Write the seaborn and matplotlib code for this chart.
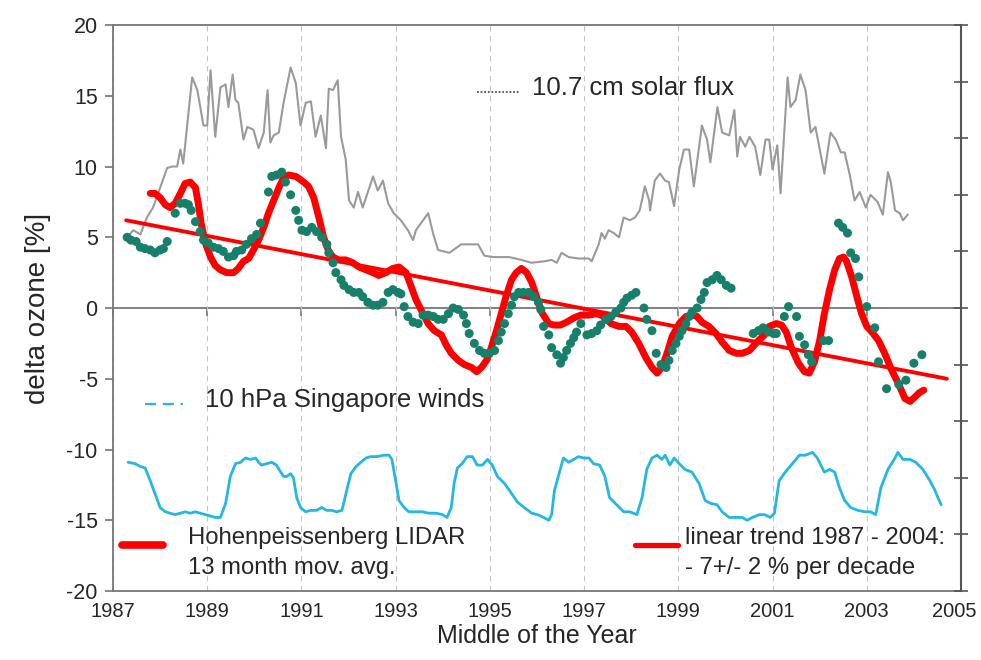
import matplotlib
matplotlib.use("Agg")
import matplotlib.pyplot as plt
import matplotlib.transforms as mtransforms
import seaborn as sns

# 10.7 cm solar flux, scaled onto the ozone axis
solar_year = [1987.30, 1987.43, 1987.58, 1987.72, 1987.85,
              1988.15, 1988.26, 1988.36, 1988.43, 1988.49, 1988.68, 1988.79, 1988.92,
              1989.00, 1989.07, 1989.17, 1989.28, 1989.39, 1989.45, 1989.54, 1989.60, 1989.66, 1989.77, 1989.85, 1989.98,
              1990.09, 1990.20, 1990.28, 1990.34, 1990.41, 1990.52, 1990.62, 1990.77, 1990.88, 1990.98,
              1991.09, 1991.20, 1991.30, 1991.41, 1991.52, 1991.58, 1991.67, 1991.77, 1991.84, 1991.94,
              1992.01, 1992.11, 1992.20, 1992.30, 1992.52, 1992.62, 1992.73, 1992.84, 1992.96,
              1993.11, 1993.26, 1993.37, 1993.43, 1993.69, 1993.80, 1993.90,
              1994.14, 1994.39, 1994.75, 1994.88,
              1995.07, 1995.41, 1995.67, 1995.88,
              1996.16, 1996.31, 1996.42, 1996.52, 1996.67, 1996.88,
              1997.10, 1997.16, 1997.31, 1997.37, 1997.44, 1997.52, 1997.63, 1997.74, 1997.84, 1997.97,
              1998.08, 1998.18, 1998.29, 1998.38, 1998.40, 1998.50, 1998.61, 1998.72, 1998.80, 1998.91,
              1999.02, 1999.12, 1999.23, 1999.33, 1999.50, 1999.61, 1999.68, 1999.83, 1999.93,
              2000.08, 2000.19, 2000.25, 2000.31, 2000.42, 2000.51, 2000.63, 2000.74, 2000.85, 2000.93,
              2001.00, 2001.10, 2001.17, 2001.32, 2001.38, 2001.49, 2001.59, 2001.70, 2001.81, 2001.91,
              2002.10, 2002.23, 2002.34, 2002.45, 2002.53, 2002.64, 2002.74, 2002.85, 2002.98,
              2003.08, 2003.23, 2003.34, 2003.45, 2003.51, 2003.60, 2003.70, 2003.77, 2003.87]
solar_value = [5.0, 5.5, 5.2, 6.4, 7.1,
               9.9, 10.0, 10.0, 11.2, 10.2, 16.3, 15.4, 12.9,
               12.9, 16.8, 12.1, 15.6, 15.8, 14.2, 16.5, 14.7, 14.5, 11.9, 12.8, 12.6,
               11.3, 12.4, 15.4, 11.7, 12.2, 12.4, 14.5, 17.0, 15.9, 12.9,
               14.5, 14.6, 12.1, 13.6, 11.3, 15.5, 15.4, 16.1, 12.1, 10.5,
               7.6, 7.1, 8.2, 7.1, 9.3, 8.3, 9.0, 7.4, 6.7,
               6.2, 5.5, 4.8, 5.5, 6.7, 5.2, 4.1,
               3.9, 4.5, 4.5, 3.7,
               3.6, 3.6, 3.4, 3.2,
               3.3, 3.4, 3.2, 3.9, 3.6, 3.5,
               3.5, 3.3, 4.5, 5.3, 4.9, 5.5, 5.3, 5.0, 6.4, 6.2,
               6.4, 6.9, 8.6, 7.6, 6.9, 9.0, 9.5, 9.0, 8.9, 7.2,
               9.8, 11.2, 11.2, 8.6, 12.9, 11.9, 10.3, 14.2, 12.4,
               12.2, 14.0, 10.7, 12.1, 11.4, 12.1, 11.4, 9.4, 11.9, 11.9,
               9.8, 11.5, 8.1, 16.3, 14.2, 14.7, 16.5, 15.4, 12.4, 12.8,
               9.5, 12.4, 11.9, 11.0, 11.0, 9.4, 7.6, 8.2, 7.1,
               8.0, 7.5, 6.6, 9.6, 8.9, 6.9, 6.7, 6.2, 6.6]

# monthly LIDAR ozone deviations (green dots)
lidar_year = [1987.30, 1987.38, 1987.49, 1987.58, 1987.68, 1987.79, 1987.89,
              1988.00, 1988.07, 1988.15, 1988.32, 1988.43, 1988.53, 1988.60, 1988.66, 1988.75, 1988.85, 1988.92,
              1989.02, 1989.13, 1989.24, 1989.34, 1989.45, 1989.56, 1989.62, 1989.73, 1989.83, 1989.94,
              1990.05, 1990.13, 1990.30, 1990.37, 1990.47, 1990.58, 1990.66, 1990.77, 1990.88, 1990.94,
              1991.01, 1991.11, 1991.22, 1991.32, 1991.43, 1991.54, 1991.58, 1991.67, 1991.73, 1991.84, 1991.90,
              1992.01, 1992.11, 1992.22, 1992.30, 1992.41, 1992.52, 1992.62, 1992.73, 1992.84, 1992.94,
              1993.05, 1993.11, 1993.18, 1993.26, 1993.37, 1993.48, 1993.58, 1993.69, 1993.80, 1993.90,
              1994.01, 1994.12, 1994.22, 1994.33, 1994.44, 1994.50, 1994.56, 1994.67, 1994.78, 1994.88, 1994.99,
              1995.10, 1995.18, 1995.24, 1995.31, 1995.39, 1995.46, 1995.52, 1995.61, 1995.71, 1995.82, 1995.93,
              1996.03, 1996.08, 1996.14, 1996.25, 1996.31, 1996.42, 1996.50, 1996.56, 1996.63, 1996.71, 1996.78, 1996.84, 1996.93,
              1997.06, 1997.16, 1997.27, 1997.35, 1997.46, 1997.57, 1997.67, 1997.78, 1997.84, 1997.91,
              1998.01, 1998.10, 1998.27, 1998.33, 1998.44, 1998.53, 1998.63, 1998.74, 1998.80, 1998.87, 1998.95,
              1999.02, 1999.08, 1999.16, 1999.23, 1999.29, 1999.40, 1999.48, 1999.55, 1999.61, 1999.72, 1999.82, 1999.91,
              2000.02, 2000.12, 2000.59, 2000.70, 2000.80, 2000.91,
              2001.02, 2001.08, 2001.25, 2001.34, 2001.51, 2001.57, 2001.68, 2001.76, 2001.83,
              2002.08, 2002.19, 2002.40, 2002.49, 2002.59, 2002.66, 2002.76, 2002.83,
              2003.00, 2003.17, 2003.25, 2003.42, 2003.68, 2003.83,
              2004.00, 2004.17]
lidar_value = [5.0, 4.8, 4.7, 4.3, 4.2, 4.1, 3.9,
               4.1, 4.2, 4.7, 6.7, 7.4, 7.4, 7.3, 6.9, 6.1, 5.4, 4.8,
               4.6, 4.3, 4.2, 4.0, 3.6, 3.7, 4.0, 4.1, 4.5, 4.9,
               5.2, 6.0, 8.2, 9.3, 9.4, 9.6, 8.9, 8.0, 6.9, 6.2,
               5.5, 5.4, 5.7, 5.4, 5.0, 4.5, 3.9, 3.2, 2.5, 2.0, 1.6,
               1.3, 1.1, 1.1, 0.8, 0.4, 0.2, 0.2, 0.4, 1.1, 1.3,
               1.1, 1.0, 0.1, -0.6, -1.0, -1.1, -0.5, -0.5, -0.6, -0.8,
               -0.8, -0.4, 0.0, -0.1, -0.5, -1.1, -1.8, -2.5, -3.0, -3.2, -3.2,
               -3.0, -2.3, -1.7, -1.1, -0.4, 0.2, 0.8, 1.1, 1.1, 1.1, 0.8,
               0.4, -0.1, -1.3, -1.9, -2.8, -3.3, -3.9, -3.5, -3.0, -2.5, -2.1, -1.7, -1.1,
               -1.9, -1.8, -1.6, -1.2, -0.8, -0.6, -0.3, 0.0, 0.4, 0.7,
               0.9, 1.1, 0.0, -0.8, -1.6, -3.2, -4.0, -4.2, -3.7, -3.0, -2.5,
               -2.0, -1.6, -1.1, -0.6, -0.3, 0.0, 0.6, 1.1, 1.8, 2.0, 2.3, 2.0,
               1.6, 1.4, -1.8, -1.6, -1.4, -1.7,
               -1.8, -1.8, -0.6, 0.1, -0.6, -2.0, -2.6, -3.3, -3.8,
               -2.3, -2.3, 6.0, 5.7, 5.3, 3.9, 3.5, 2.2,
               0.1, -1.4, -3.8, -5.7, -5.4, -5.1,
               -3.9, -3.3]

# 13 month moving average (thick red line)
avg_year = [1987.79, 1987.89, 1988.00, 1988.11, 1988.21, 1988.32, 1988.43, 1988.53, 1988.64, 1988.75,
            1988.81, 1988.87, 1988.96, 1989.07, 1989.17, 1989.28, 1989.41, 1989.56, 1989.66, 1989.77,
            1989.88, 1989.98, 1990.09, 1990.20, 1990.30, 1990.41, 1990.52, 1990.62, 1990.73, 1990.88,
            1991.01, 1991.15, 1991.26, 1991.37, 1991.47, 1991.58, 1991.67, 1991.79, 1991.94, 1992.09,
            1992.22, 1992.37, 1992.52, 1992.64, 1992.79, 1992.94, 1993.07, 1993.22, 1993.33, 1993.43,
            1993.58, 1993.69, 1993.82, 1993.97, 1994.07, 1994.18, 1994.33, 1994.46, 1994.61, 1994.72,
            1994.82, 1994.93, 1995.03, 1995.14, 1995.24, 1995.35, 1995.46, 1995.56, 1995.67, 1995.78,
            1995.89, 1995.99, 1996.10, 1996.25, 1996.35, 1996.50, 1996.63, 1996.78, 1996.93, 1997.10,
            1997.27, 1997.42, 1997.57, 1997.74, 1997.89, 1998.01, 1998.16, 1998.31, 1998.44, 1998.55,
            1998.65, 1998.76, 1998.87, 1999.02, 1999.16, 1999.29, 1999.40, 1999.50, 1999.65, 1999.80,
            1999.93, 2000.08, 2000.23, 2000.36, 2000.51, 2000.70, 2000.83, 2000.93, 2001.08, 2001.19,
            2001.29, 2001.40, 2001.55, 2001.68, 2001.78, 2001.89, 2002.00, 2002.10, 2002.21, 2002.32,
            2002.42, 2002.51, 2002.57, 2002.68, 2002.79, 2002.89, 2003.00, 2003.11, 2003.25, 2003.38,
            2003.53, 2003.68, 2003.81, 2003.92, 2004.02, 2004.11, 2004.21]
avg_value = [8.1, 8.1, 7.8, 7.3, 7.1, 7.4, 8.1, 8.8, 8.9, 8.5,
             7.4, 6.0, 4.6, 3.6, 3.0, 2.7, 2.5, 2.5, 2.8, 3.3,
             3.5, 4.1, 4.8, 5.7, 6.7, 7.6, 8.5, 9.2, 9.4, 9.3,
             9.0, 8.6, 7.8, 6.4, 5.0, 4.0, 3.6, 3.4, 3.4, 3.2,
             2.9, 2.7, 2.5, 2.3, 2.5, 2.8, 2.9, 2.5, 1.5, 0.6,
             -0.4, -1.1, -1.6, -1.9, -2.6, -3.2, -3.7, -4.0, -4.2, -4.5,
             -4.2, -3.7, -2.8, -1.6, -0.4, 0.9, 2.0, 2.5, 2.8, 2.5,
             1.8, 0.8, -0.3, -1.1, -1.2, -1.2, -1.0, -0.7, -0.5, -0.5,
             -0.4, -0.6, -1.1, -1.3, -1.3, -1.7, -2.5, -3.5, -4.2, -4.6,
             -4.2, -3.2, -2.0, -1.1, -0.6, -0.5, -0.6, -1.0, -1.3, -1.8,
             -2.4, -3.0, -3.2, -3.2, -3.0, -2.3, -1.9, -1.3, -1.1, -1.2,
             -1.7, -2.8, -3.9, -4.5, -4.6, -3.8, -2.3, -0.4, 1.3, 2.7,
             3.5, 3.6, 3.3, 2.2, 0.8, -0.4, -1.3, -1.7, -2.3, -3.2,
             -4.4, -5.4, -6.4, -6.6, -6.3, -6.0, -5.8]

# linear trend 1987 - 2004
trend_year = [1987.28, 2004.70]
trend_value = [6.2, -5.0]

# 10 hPa Singapore winds, scaled onto the ozone axis
wind_year = [1987.32, 1987.47, 1987.58, 1987.68, 1987.79, 1987.89, 1988.00, 1988.11, 1988.21, 1988.32,
             1988.43, 1988.53, 1988.64, 1988.75, 1988.85, 1988.96, 1989.07, 1989.17, 1989.28, 1989.39,
             1989.49, 1989.60, 1989.71, 1989.81, 1989.92, 1990.03, 1990.09, 1990.15, 1990.26, 1990.37,
             1990.47, 1990.56, 1990.62, 1990.69, 1990.77, 1990.83, 1990.90, 1990.98, 1991.09, 1991.20,
             1991.32, 1991.43, 1991.54, 1991.64, 1991.75, 1991.86, 1991.96, 1992.05, 1992.16, 1992.26,
             1992.37, 1992.47, 1992.60, 1992.75, 1992.86, 1992.92, 1993.01, 1993.07, 1993.18, 1993.28,
             1993.43, 1993.56, 1993.71, 1993.86, 1993.99, 1994.09, 1994.18, 1994.24, 1994.31, 1994.41,
             1994.52, 1994.63, 1994.73, 1994.84, 1994.95, 1995.05, 1995.16, 1995.31, 1995.46, 1995.58,
             1995.73, 1995.89, 1996.01, 1996.14, 1996.25, 1996.31, 1996.37, 1996.46, 1996.56, 1996.67,
             1996.78, 1996.88, 1996.99, 1997.10, 1997.20, 1997.33, 1997.44, 1997.54, 1997.69, 1997.84,
             1997.97, 1998.12, 1998.23, 1998.33, 1998.44, 1998.55, 1998.65, 1998.72, 1998.82, 1998.91,
             1999.02, 1999.14, 1999.29, 1999.44, 1999.57, 1999.68, 1999.82, 1999.93, 2000.08, 2000.21,
             2000.36, 2000.46, 2000.57, 2000.72, 2000.83, 2000.95, 2001.04, 2001.14, 2001.27, 2001.42,
             2001.57, 2001.70, 2001.85, 2001.95, 2002.10, 2002.21, 2002.32, 2002.42, 2002.53, 2002.66,
             2002.81, 2002.96, 2003.08, 2003.19, 2003.30, 2003.45, 2003.60, 2003.66, 2003.77, 2003.92,
             2004.04, 2004.19, 2004.34, 2004.45, 2004.51, 2004.58]
wind_value = [-10.9, -11.0, -11.2, -11.3, -12.2, -13.1, -14.1, -14.4, -14.5, -14.6,
              -14.5, -14.4, -14.5, -14.4, -14.5, -14.6, -14.7, -14.8, -14.8, -13.8,
              -11.9, -11.0, -10.9, -10.6, -10.7, -10.6, -10.9, -11.1, -11.0, -10.9,
              -11.1, -11.6, -11.9, -11.9, -11.7, -12.0, -13.4, -14.1, -14.4, -14.3,
              -14.3, -14.1, -14.3, -14.3, -14.4, -14.3, -12.9, -11.7, -11.2, -10.9,
              -10.6, -10.5, -10.5, -10.4, -10.4, -10.7, -12.4, -13.6, -14.1, -14.4,
              -14.4, -14.4, -14.5, -14.5, -14.6, -14.8, -14.1, -12.4, -11.3, -11.0,
              -10.5, -10.5, -11.1, -11.1, -10.7, -11.1, -11.9, -12.4, -13.1, -13.7,
              -14.1, -14.5, -14.6, -14.8, -15.0, -14.6, -12.9, -11.8, -10.6, -10.9,
              -10.7, -10.5, -10.6, -10.6, -11.0, -11.1, -11.9, -13.4, -13.9, -14.4,
              -14.4, -14.6, -13.4, -11.4, -10.6, -10.4, -10.7, -10.4, -11.1, -10.6,
              -11.0, -11.4, -11.6, -12.4, -13.6, -13.8, -13.9, -14.4, -14.8, -14.8,
              -14.8, -15.0, -14.8, -14.6, -14.6, -14.8, -14.5, -12.2, -11.6, -11.0,
              -10.4, -10.4, -10.2, -10.6, -11.6, -11.4, -11.6, -12.7, -13.6, -14.1,
              -14.3, -14.4, -14.4, -14.6, -12.7, -11.4, -10.6, -10.2, -10.7, -10.7,
              -10.9, -11.4, -12.2, -12.9, -13.4, -13.9]

year_ticks = list(range(1987, 2006, 2))
ozone_ticks = list(range(-20, 21, 5))

sns.set_style("white")
plt.rcParams['font.family'] = ['Liberation Sans', 'DejaVu Sans']
plt.rcParams['axes.unicode_minus'] = False

red = '#ff0000'
green = '#17806b'
cyan = '#22b8e6'
edge = '#767676'

fig = plt.figure(figsize=(9.81, 6.6), dpi=100)
ax = fig.add_axes([0.1152, 0.1045, 0.8644, 0.8576])

sns.lineplot(x=solar_year, y=solar_value, ax=ax, color='#9a9a9a', lw=1.5,
             estimator=None, sort=False, zorder=2)
sns.lineplot(x=wind_year, y=wind_value, ax=ax, color=cyan, lw=2.0,
             estimator=None, sort=False, zorder=2)
sns.lineplot(x=avg_year, y=avg_value, ax=ax, color=red, lw=5.0,
             estimator=None, sort=False, zorder=3)
sns.lineplot(x=trend_year, y=trend_value, ax=ax, color=red, lw=2.8,
             estimator=None, sort=False, zorder=4)
sns.scatterplot(x=lidar_year, y=lidar_value, ax=ax, color=green, s=42,
                edgecolor='none', zorder=5)

ax.set_xlim(1987, 2005)
ax.set_ylim(-20, 20)
ax.set_xticks(year_ticks)
ax.set_yticks(ozone_ticks)
ax.set_axisbelow(True)
ax.grid(axis='x', ls=(0, (5, 4)), color='#c4c4c4', lw=0.8)
ax.grid(axis='y', visible=False)
for sp in ax.spines.values():
    sp.set_color(edge)
    sp.set_linewidth(1.3)
ax.tick_params(axis='y', direction='out', length=6, width=1.2, color=edge,
               labelsize=15.5, pad=5, left=True)
ax.tick_params(axis='x', length=0, labelsize=14.5, pad=8)
ax.set_xlabel("Middle of the Year", fontsize=18, labelpad=2)
ax.set_ylabel("delta ozone [%]", fontsize=20, labelpad=11)

# keep the last year label inside the picture
last = ax.get_xticklabels()[-1]
last.set_transform(last.get_transform() +
                   mtransforms.ScaledTranslation(-5 / 72, 0, fig.dpi_scale_trans))

# zero line with the year ticks, Excel style
zero = ax.secondary_xaxis(0.5)
zero.set_xticks(year_ticks)
zero.tick_params(axis='x', direction='in', length=6, width=1.2, color=edge,
                 labeltop=False, labelbottom=False)
for sp in zero.spines.values():
    sp.set_color(edge)
    sp.set_linewidth(1.3)

# right hand axis: tick marks only
ax2 = ax.twinx()
ax2.set_ylim(-20, 20)
ax2.set_yticks(list(range(-20, 21, 4)))
ax2.tick_params(axis='y', direction='inout', length=10, width=1.2, color='#555555',
                labelright=False, right=True)
for sp in ax2.spines.values():
    sp.set_visible(False)
ax2.spines['right'].set_visible(True)
ax2.spines['right'].set_color('#555555')
ax2.spines['right'].set_linewidth(1.5)

# hand placed legend entries
tr = ax.transAxes
ax.plot([0.429, 0.480], [0.882, 0.882], transform=tr, color='#555555', ls=(0, (1, 1)), lw=1.3)
ax.text(0.494, 0.889, "10.7 cm solar flux", transform=tr, fontsize=18.5, va='center')
ax.plot([0.038, 0.083], [0.330, 0.330], transform=tr, color=cyan, ls=(0, (5, 3)), lw=1.6)
ax.text(0.1085, 0.337, "10 hPa Singapore winds", transform=tr, fontsize=18.5, va='center')
ax.plot([0.011, 0.059], [0.081, 0.081], transform=tr, color=red, lw=5.5)
ax.text(0.0884, 0.0936, "Hohenpeissenberg LIDAR", transform=tr, fontsize=17.2, va='center')
ax.text(0.0884, 0.0406, "13 month mov. avg.", transform=tr, fontsize=17.2, va='center')
ax.plot([0.616, 0.666], [0.081, 0.081], transform=tr, color=red, lw=3.8)
ax.text(0.6745, 0.0936, "linear trend 1987 - 2004:", transform=tr, fontsize=17.2, va='center')
ax.text(0.6745, 0.0406, "- 7+/- 2 % per decade", transform=tr, fontsize=17.2, va='center')

fig.savefig("out.png", dpi=100)
